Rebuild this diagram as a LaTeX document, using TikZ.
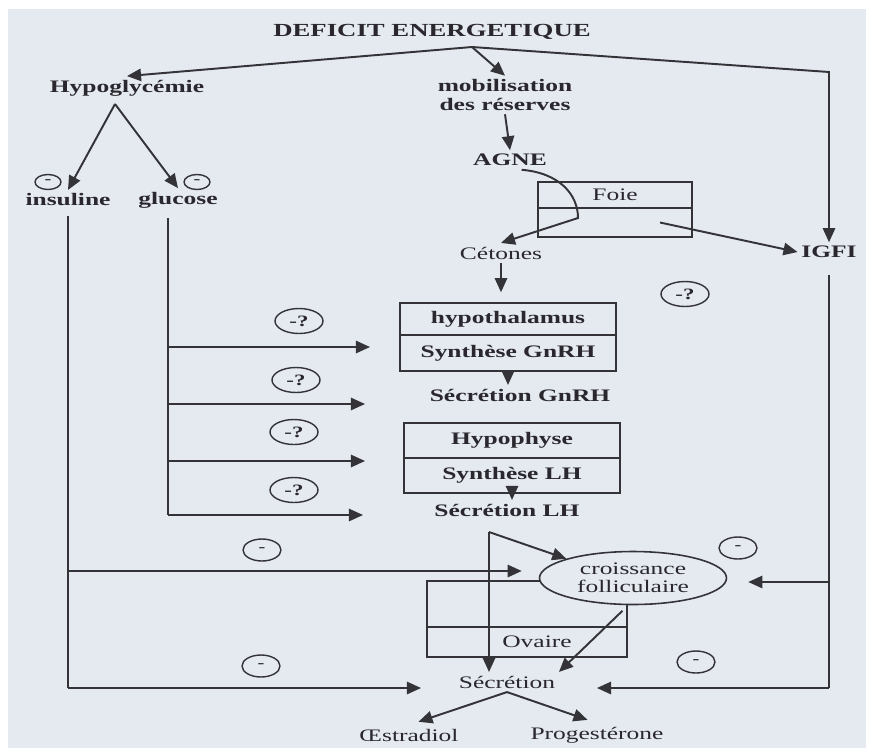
\documentclass[tikz,border=0pt]{standalone}
\usepackage{fontspec}
\setmainfont{Liberation Serif}[FakeStretch=1.45]
\usetikzlibrary{arrows.meta, shapes.geometric}
\definecolor{fond}{HTML}{E4EAF0}
\definecolor{trait}{HTML}{333338}
\definecolor{encre}{HTML}{2A272E}

\begin{document}
\begin{tikzpicture}[x=0.02cm, y=-0.02cm,
  lbl/.style={font=\fontsize{10}{10.5}\selectfont\bfseries, text=encre, inner sep=2pt, align=center},
  txt/.style={font=\fontsize{10}{10.5}\selectfont, text=encre, inner sep=2pt, align=center},
  cell/.style={draw=trait, line width=0.9pt, inner sep=0pt, font=\fontsize{10}{10.5}\selectfont\bfseries, text=encre},
  moins/.style={ellipse, draw=trait, line width=0.8pt, inner sep=0pt, minimum width=0.76cm, minimum height=0.44cm, font=\fontsize{8}{8}\selectfont\bfseries, text=encre},
  doute/.style={moins, minimum width=0.96cm, minimum height=0.5cm, font=\fontsize{9}{9}\selectfont\bfseries},
  ln/.style={draw=trait, line width=1.1pt},
  fl/.style={ln, -{Triangle[length=8pt,width=7pt]}}
]
  \fill[white] (0,0) rectangle (872,751);
  \fill[fond] (8,9) rectangle (866,748);
  \useasboundingbox (0,0) rectangle (872,751);

  % haut
  \node[lbl, font=\fontsize{10.5}{11}\selectfont\bfseries] (deficit) at (432,32) {DEFICIT ENERGETIQUE};
  \node[lbl] (hypo) at (127,88) {Hypoglycémie};
  \node[lbl] (mobil) at (505,95) {mobilisation\\des réserves};
  \node[lbl] (agne) at (510,160) {AGNE};
  \node[lbl] (ins) at (68,200) {insuline};
  \node[lbl] (glu) at (178,200) {glucose};
  \node[moins, minimum width=0.52cm, minimum height=0.3cm] (m1) at (48,182) {-};
  \node[moins, minimum width=0.52cm, minimum height=0.3cm] (m2) at (197,182) {-};

  % foie
  \node[cell, minimum width=3.08cm, minimum height=0.52cm] (foie) at (615,195) {\fontseries{m}\selectfont Foie};
  \node[cell, minimum width=3.08cm, minimum height=0.58cm] (foieb) at (615,222.5) {};
  \node[txt] (ceto) at (501,253) {Cétones};
  \node[lbl] (igfi) at (829,252) {IGFI};
  \node[doute] (q5) at (685,294) {-?};

  % hypothalamus, hypophyse
  \node[cell, minimum width=4.32cm, minimum height=0.64cm] (hypot) at (508,319) {hypothalamus\hspace{0.3cm}};
  \node[cell, minimum width=4.32cm, minimum height=0.72cm] (synGn) at (508,353) {Synthèse GnRH};
  \node[lbl] (secGn) at (520,395) {Sécrétion GnRH};
  \node[cell, minimum width=4.32cm, minimum height=0.7cm] (hyph) at (512,440.5) {Hypophyse\hspace{0.2cm}};
  \node[cell, minimum width=4.32cm, minimum height=0.7cm] (synLH) at (512,475.5) {Synthèse LH};
  \node[lbl] (secLH) at (507,510) {Sécrétion LH};
  \foreach \x/\y [count=\i] in {299/321, 296/380, 294/432, 294/490}
    \node[doute] (q\i) at (\x,\y) {-?};

  % ovaire
  \node[cell, minimum width=4cm, minimum height=0.92cm] (ovtop) at (527,604) {};
  \node[cell, minimum width=4cm, minimum height=0.6cm] (ovaire) at (527,642) {\fontseries{m}\selectfont\hspace{0.4cm}Ovaire};
  \node[ellipse, draw=trait, line width=0.9pt, fill=fond, minimum width=3.74cm, minimum height=1.06cm,
        txt, inner sep=0pt] (croiss) at (633,578) {croissance\\folliculaire};
  \node[txt] (secr) at (507,682) {Sécrétion};
  \node[txt] (oestr) at (409,735) {Œstradiol};
  \node[txt] (proge) at (597,735) {Progestérone};
  \node[moins] (m3) at (262,550) {-};
  \node[moins] (m4) at (738,548) {-};
  \node[moins] (m5) at (261,666) {-};
  \node[moins] (m6) at (696,662) {-};

  % deficit energetique
  \coordinate (br) at (472,47);
  \coordinate (coin) at (829,72);
  \draw[fl] (br) -- (hypo.north);
  \draw[fl] (br) -- (mobil.north);
  \draw[fl] (br) -- (coin) -- (igfi.north);
  \coordinate (apex) at (115,104);
  \draw[fl] (apex) -- (ins.north);
  \draw[fl] (apex) -- (glu.north);
  \draw[fl] (mobil.south) -- (agne.north);
  \coordinate (coude) at (578,218);
  \draw[fl] (agne.-40) .. controls (560,173) and (578,195) .. (coude) -- (ceto.north);
  \draw[fl] ([xshift=0.9cm]foieb.center) -- (igfi.west);
  \draw[fl, shorten >=0.2cm] (ceto.south) -- (ceto.south |- hypot.north);
  \draw[fl] (synGn.south) -- (synGn.south |- secGn.north);
  \draw[fl] (synLH.south) -- (synLH.south |- secLH.north);

  % glucose
  \foreach \i/\y/\xt in {1/347/370, 2/404/365, 3/461/365, 4/515/363} {
    \coordinate (g\i) at (168,\y);
    \coordinate (t\i) at (\xt,\y);
    \draw[fl] (g\i) -- (t\i);
  }
  \draw[ln, shorten <=0.12cm] (glu.south -| g4) -- (g4);

  % insuline
  \coordinate (insm) at (68,571);
  \coordinate (insb) at (68,688);
  \draw[ln, shorten <=0.12cm] (ins.south) -- (insb);
  \draw[fl, shorten >=0.34cm] (insm) -- (insm -| croiss.west);
  \draw[fl, shorten >=0.68cm] (insb) -- (insb -| secr.west);

  % IGFI
  \coordinate (igm) at (829,582);
  \coordinate (igb) at (829,688);
  \draw[ln, shorten <=0.26cm] (igfi.south) -- (igb);
  \draw[fl, shorten >=0.42cm] (igm) -- (igm -| croiss.east);
  \draw[fl, shorten >=0.76cm] (igb) -- (igb -| secr.east);

  % LH, ovaire
  \coordinate (lh) at (489,532);
  \draw[fl] (lh) -- (lh |- secr.north);
  \draw[fl] (lh) -- (croiss.north west);
  \draw[fl, shorten <=0.16cm] (croiss.-100) -- (secr.north east);
  \draw[fl, shorten >=0.2cm] (secr.south) -- (oestr.north);
  \draw[fl, shorten >=0.2cm] (secr.south) -- (proge.north);
\end{tikzpicture}
\end{document}
